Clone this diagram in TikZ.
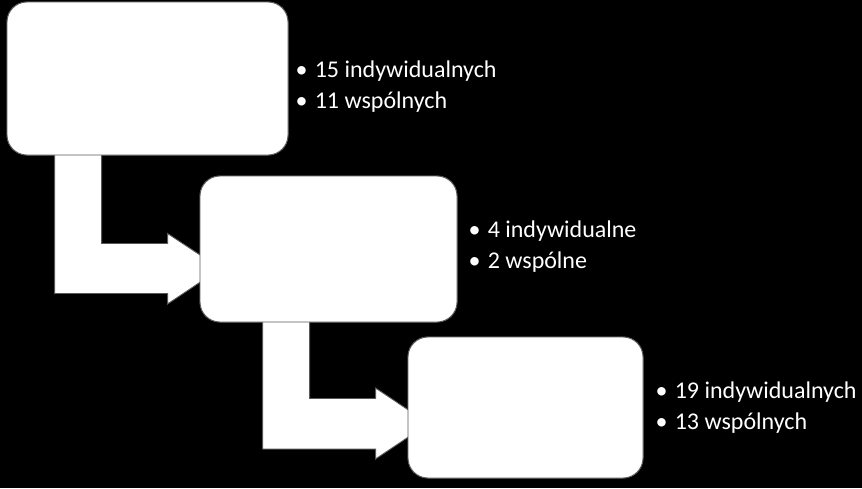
\documentclass[tikz,border=0pt]{standalone}
\usepackage{fontspec}
\setmainfont{Carlito}
\usetikzlibrary{positioning,calc}
\tikzset{
  stage/.style={fill=white, draw=black!65, line width=0.9pt, rounded corners=20pt, inner sep=0pt},
  bentarrow/.style={fill=white, draw=black!65, line width=0.9pt},
  bullets/.style={text=white, align=left, inner sep=0pt, font=\fontsize{24}{31}\selectfont}
}
\newcommand{\pt}{\textbullet\hspace{0.3em}}
\begin{document}
\begin{tikzpicture}[x=1pt,y=-1pt]
  \fill [black] (0,0) rectangle (862,488);
  \useasboundingbox (0,0) rectangle (862,488);
  %% stages
  \path (147.5,78.5) node[stage, minimum width=281pt, minimum height=153pt] (box1) {};
  \path (328.5,249) node[stage, minimum width=257pt, minimum height=146pt] (box2) {};
  \path (525.5,407.5) node[stage, minimum width=235pt, minimum height=141pt] (box3) {};
  %% bent arrows between stages
  \coordinate (s1) at ($(box1.south west)+(48,-10)$);
  \coordinate (t1) at ($(box2.west)+(21,19.5)$);
  \coordinate (s2) at ($(box2.south west)+(63,-10)$);
  \coordinate (t2) at ($(box3.west)+(21,16)$);
  \path [bentarrow] (s1) -- ++(47,0) |- ($(t1)+(-53,-25)$) -- ++(0,-10) -- (t1)
        -- ($(t1)+(-53,35.5)$) -- ++(0,-10.5) -| (s1) -- cycle;
  \path [bentarrow] (s2) -- ++(47,0) |- ($(t2)+(-53,-25)$) -- ++(0,-10.5) -- (t2)
        -- ($(t2)+(-53,35.5)$) -- ++(0,-10) -| (s2) -- cycle;
  %% redraw the boxes over the arrow ends
  \path (box1.center) node[stage, minimum width=281pt, minimum height=153pt] {};
  \path (box2.center) node[stage, minimum width=257pt, minimum height=146pt] {};
  \path (box3.center) node[stage, minimum width=235pt, minimum height=141pt] {};
  %% counts
  \node [bullets, right=7pt of box1, yshift=-8.5pt] (list1) {\pt 15 indywidualnych\\\pt 11 wspólnych};
  \node [bullets, right=11pt of box2, yshift=2.5pt] (list2) {\pt 4 indywidualne\\\pt 2 wspólne};
  \node [bullets, right=12pt of box3] (list3) {\pt 19 indywidualnych\\\pt 13 wspólnych};
\end{tikzpicture}
\end{document}
